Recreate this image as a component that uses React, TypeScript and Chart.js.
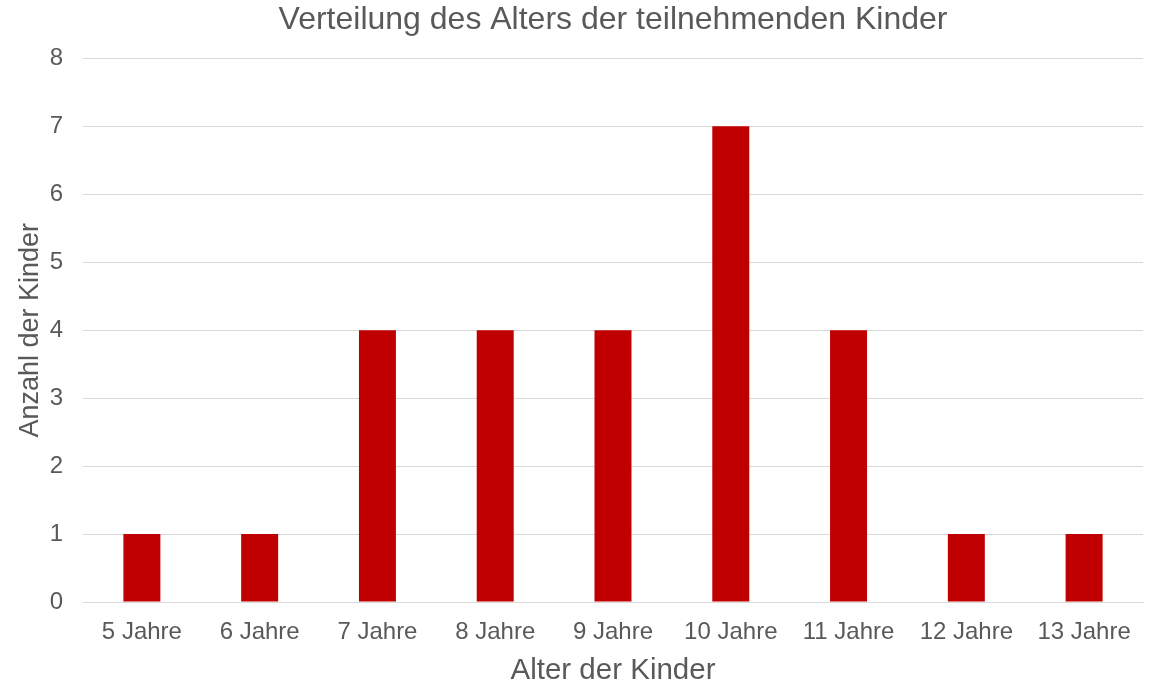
import React, { useEffect, useRef } from "react";
import { Chart, registerables } from "chart.js";

Chart.register(...registerables);

const categories = ["5 Jahre", "6 Jahre", "7 Jahre", "8 Jahre", "9 Jahre", "10 Jahre", "11 Jahre", "12 Jahre", "13 Jahre"];
const counts = [1, 1, 4, 4, 4, 7, 4, 1, 1];
const titleText = "Verteilung des Alters der teilnehmenden Kinder";
const xTitle = "Alter der Kinder";
const yTitle = "Anzahl der Kinder";

const FONT = "'Liberation Sans', Arial, sans-serif";
const TEXT = "#595959";

export default function App() {
  const ref = useRef<HTMLCanvasElement>(null);
  useEffect(() => {
    document.body.style.margin = "0";
    const chart = new Chart(ref.current!, {
      type: "bar",
      data: {
        labels: categories,
        datasets: [{ data: counts, backgroundColor: "#C00000", categoryPercentage: 1, barPercentage: 0.314 }],
      },
      options: {
        responsive: false,
        animation: false,
        layout: { padding: { top: 1, right: 7, bottom: 0, left: 10 } },
        plugins: {
          legend: { display: false },
          tooltip: { enabled: false },
          title: {
            display: true,
            text: titleText,
            fullSize: false,
            color: TEXT,
            font: { family: FONT, size: 32, weight: "normal", lineHeight: 1.2 },
            padding: { top: 0, bottom: 19 },
          },
        },
        scales: {
          x: {
            afterFit: (s: any) => { s.height = 79; },
            grid: { display: false, drawTicks: false },
            border: { display: true, color: "#D9D9D9", width: 1 },
            ticks: { color: TEXT, font: { family: FONT, size: 24 }, padding: 16, maxRotation: 0 },
            title: { display: true, text: xTitle, color: TEXT, font: { family: FONT, size: 29.5, lineHeight: 0.7 }, padding: { top: 0, bottom: 0 } },
          },
          y: {
            min: 0,
            max: 8,
            afterFit: (s: any) => { s.width = 73; },
            ticks: { stepSize: 1, color: TEXT, font: { family: FONT, size: 24 }, padding: 20 },
            grid: { color: "#D9D9D9", lineWidth: 1, drawTicks: false },
            border: { display: false },
            title: { display: true, text: yTitle, color: TEXT, font: { family: FONT, size: 27 }, padding: { top: 4, bottom: 0 } },
          },
        },
      },
    });
    return () => chart.destroy();
  }, []);
  return (
    <div style={{ position: "absolute", left: 0, top: 0, width: 1150, height: 681, background: "#fff" }}>
      <canvas ref={ref} width={1150} height={681} />
    </div>
  );
}
